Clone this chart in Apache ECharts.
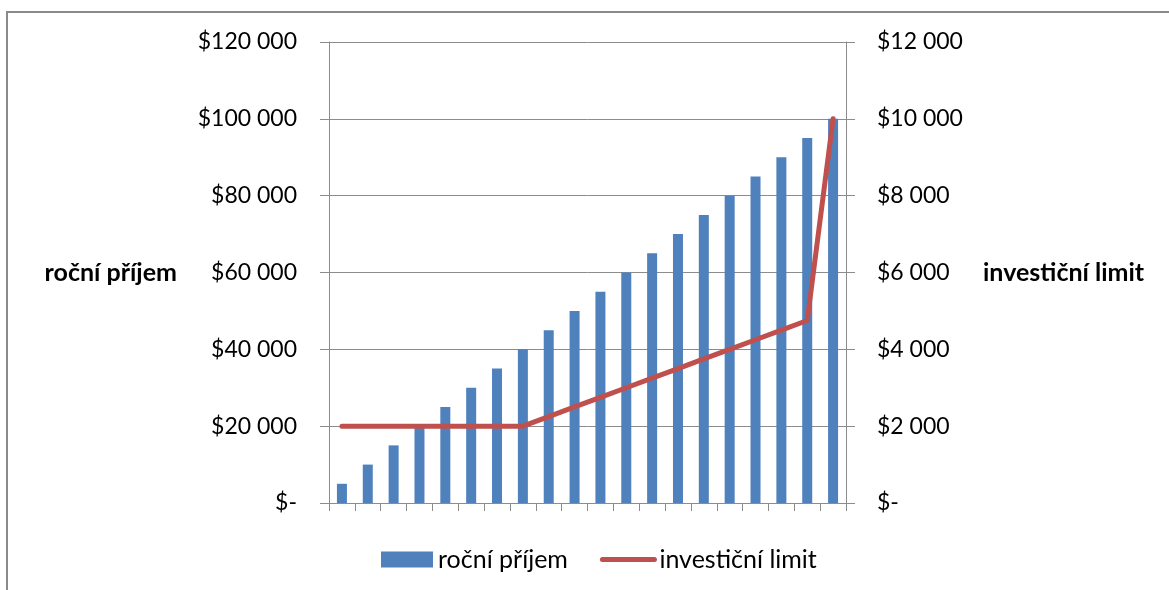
<!DOCTYPE html>
<html>
<head>
<meta charset="utf-8">
<script src="https://cdn.jsdelivr.net/npm/echarts@6/dist/echarts.min.js"></script>
<style>
  html, body { margin: 0; padding: 0; background: #fff; }
  #chart { width: 1169px; height: 590px; }
</style>
</head>
<body>
<div id="chart"></div>
<script>
// Annual income brackets (one bar each) and the matching investment limit
const incomeLabels = ['5 000','10 000','15 000','20 000','25 000','30 000','35 000','40 000','45 000','50 000',
                      '55 000','60 000','65 000','70 000','75 000','80 000','85 000','90 000','95 000','100 000'];
const rocniPrijem = [5000,10000,15000,20000,25000,30000,35000,40000,45000,50000,
                     55000,60000,65000,70000,75000,80000,85000,90000,95000,100000];
const investicniLimit = [2000,2000,2000,2000,2000,2000,2000,2000,2250,2500,
                         2750,3000,3250,3500,3750,4000,4250,4500,4750,10000];
const leftTicks = { min: 0, max: 120000, interval: 20000 };
const rightTicks = { min: 0, max: 12000, interval: 2000 };

const FONT = 'Lato';
const GRAY = '#8c8c8c';
const BLUE = '#4F81BD';
const RED = '#C0504D';

// Accounting-style money label: "$-" for zero, space as thousands separator
function money(v) {
  if (v === 0) return '$-';
  return '$' + String(v).replace(/\B(?=(\d{3})+(?!\d))/g, ' ');
}

const chart = echarts.init(document.getElementById('chart'), null, { renderer: 'canvas' });
chart.setOption({
  animation: false,
  backgroundColor: '#fff',
  textStyle: { fontFamily: FONT },
  graphic: [{
    type: 'rect',
    shape: { x: 7, y: 12, width: 1300, height: 700 },
    style: { fill: 'none', stroke: '#8a8a8a', lineWidth: 2 },
    silent: true
  }],
  grid: { left: 329, right: 323, top: 42, bottom: 87 },
  legend: {
    left: 376, top: 542,
    itemWidth: 52, itemHeight: 16, itemGap: 32,
    textStyle: { fontFamily: FONT, fontSize: 25, color: '#000' },
    lineStyle: { width: 5, cap: 'round' },
    data: [
      { name: 'roční příjem', icon: 'rect' },
      { name: 'investiční limit', itemStyle: { opacity: 0 }, lineStyle: { width: 5, cap: 'round', color: RED } }
    ]
  },
  xAxis: {
    type: 'category',
    data: incomeLabels,
    boundaryGap: true,
    axisLine: { lineStyle: { color: GRAY, width: 1 } },
    axisTick: { show: true, interval: 0, alignWithLabel: false, length: 8, lineStyle: { color: GRAY } },
    axisLabel: { show: false },
    splitLine: { show: false }
  },
  yAxis: [{
    type: 'value',
    position: 'left',
    min: leftTicks.min, max: leftTicks.max, interval: leftTicks.interval,
    name: 'roční příjem',
    nameLocation: 'middle',
    nameRotate: 0,
    nameGap: 152,
    nameTextStyle: { fontFamily: FONT, fontSize: 25, fontWeight: 'bold', color: '#000', align: 'right' },
    axisLine: { show: true, lineStyle: { color: GRAY } },
    axisTick: { show: true, inside: false, length: 9, lineStyle: { color: GRAY } },
    axisLabel: { formatter: money, fontFamily: FONT, fontSize: 23, color: '#000', margin: 32 },
    splitLine: { show: true, lineStyle: { color: GRAY, width: 1 } }
  }, {
    type: 'value',
    position: 'right',
    min: rightTicks.min, max: rightTicks.max, interval: rightTicks.interval,
    name: 'investiční limit',
    nameLocation: 'middle',
    nameRotate: 0,
    nameGap: 137,
    nameTextStyle: { fontFamily: FONT, fontSize: 25, fontWeight: 'bold', color: '#000', align: 'left' },
    axisLine: { show: true, lineStyle: { color: GRAY } },
    axisTick: { show: true, inside: false, length: 9, lineStyle: { color: GRAY } },
    axisLabel: { formatter: money, fontFamily: FONT, fontSize: 23, color: '#000', margin: 31 },
    splitLine: { show: false }
  }],
  series: [{
    name: 'roční příjem',
    type: 'bar',
    yAxisIndex: 0,
    data: rocniPrijem,
    barWidth: 10,
    itemStyle: { color: BLUE },
    z: 2
  }, {
    name: 'investiční limit',
    type: 'line',
    yAxisIndex: 1,
    data: investicniLimit,
    symbol: 'none',
    lineStyle: { color: RED, width: 5, cap: 'round', join: 'round' },
    itemStyle: { color: RED },
    z: 3
  }]
});
</script>
</body>
</html>
